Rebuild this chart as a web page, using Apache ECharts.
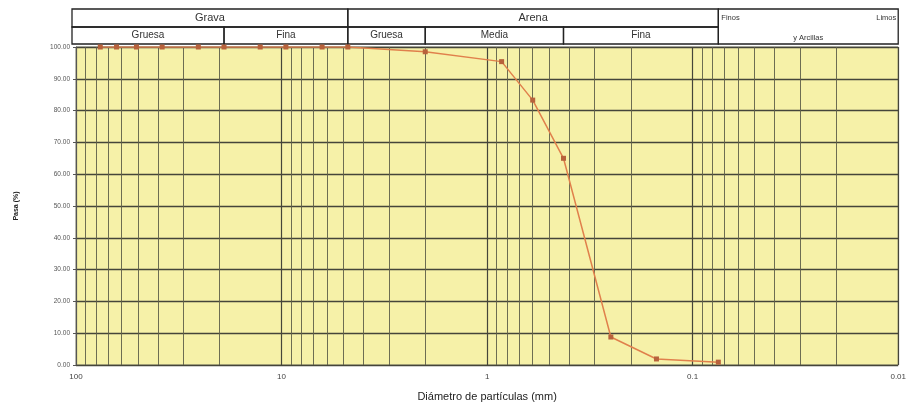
<!DOCTYPE html>
<html>
<head>
<meta charset="utf-8">
<script src="https://cdn.jsdelivr.net/npm/echarts@6/dist/echarts.min.js"></script>
<style>
  html, body { margin: 0; padding: 0; background: #fff; }
  #chart { width: 909px; height: 412px; }
</style>
</head>
<body>
<div id="chart"></div>
<script>
// tamices (mm) y porcentaje que pasa
var diametros = [76.2, 63.5, 50.8, 38.1, 25.4, 19.05, 12.7, 9.525, 6.35, 4.76, 2.0, 0.85, 0.6, 0.425, 0.25, 0.15, 0.075];
var pasa = [100, 100, 100, 100, 100, 100, 100, 100, 100, 100, 98.5, 95.4, 83.3, 65.0, 8.8, 1.9, 0.9];

// lineas menores de la malla logaritmica
var decadas = [0.01, 0.1, 1, 10];
var multiplos = [2, 3, 4, 5, 6, 7, 8, 9];

// encabezado de clasificacion
var fila1 = [
    { text: 'Grava', from: 100, to: 4.76 },
    { text: 'Arena', from: 4.76, to: 0.075 }
];
var fila2 = [
    { text: 'Gruesa', from: 100, to: 19.05 },
    { text: 'Fina', from: 19.05, to: 4.76 },
    { text: 'Gruesa', from: 4.76, to: 2.0 },
    { text: 'Media', from: 2.0, to: 0.425 },
    { text: 'Fina', from: 0.425, to: 0.075 }
];

var myChart = echarts.init(document.getElementById('chart'));

var puntos = [];
for (var i = 0; i < diametros.length; i++) {
    puntos.push([diametros[i], pasa[i]]);
}
var lineasMenores = [];
for (var d = 0; d < decadas.length; d++) {
    for (var m = 0; m < multiplos.length; m++) {
        lineasMenores.push({ xAxis: +(decadas[d] * multiplos[m]).toPrecision(3) });
    }
}

var option = {
    animation: false,
    grid: {
        left: 76, right: 8, top: 47, bottom: 47,
        show: true,
        backgroundColor: '#f6f1a8',
        borderColor: '#8a8a70',
        borderWidth: 1
    },
    xAxis: {
        type: 'log',
        logBase: 10,
        min: 0.01,
        max: 100,
        inverse: true,
        name: 'Diámetro de partículas (mm)',
        nameLocation: 'middle',
        nameGap: 26,
        nameTextStyle: { fontFamily: 'Liberation Sans', fontSize: 11, color: '#222' },
        axisLine: { show: false },
        axisTick: { show: false },
        axisLabel: {
            fontFamily: 'Liberation Sans', fontSize: 8, color: '#444', margin: 8,
            formatter: function (v) { return String(+v.toPrecision(3)); }
        },
        splitLine: { show: true, lineStyle: { color: '#45453a', width: 1.2 } }
    },
    yAxis: {
        type: 'value',
        min: 0,
        max: 100,
        interval: 10,
        name: 'Pasa (%)',
        nameLocation: 'middle',
        nameGap: 56,
        nameTextStyle: { fontFamily: 'Liberation Sans', fontSize: 7, fontWeight: 'bold', color: '#222' },
        axisLine: { show: true, lineStyle: { color: '#555', width: 1 } },
        axisTick: { show: true, length: 3, lineStyle: { color: '#555' } },
        axisLabel: {
            fontFamily: 'Liberation Sans', fontSize: 6.5, color: '#555', margin: 6,
            formatter: function (v) { return v.toFixed(2); }
        },
        splitLine: { show: true, lineStyle: { color: '#45453a', width: 1.3 } }
    },
    series: [
        {
            type: 'line',
            data: puntos,
            symbol: 'rect',
            symbolSize: 5,
            itemStyle: { color: '#b8623c' },
            lineStyle: { color: '#e0804c', width: 1.5 },
            z: 5,
            markLine: {
                silent: true,
                symbol: 'none',
                label: { show: false },
                lineStyle: { color: '#5e5e48', width: 0.9, type: 'solid' },
                data: lineasMenores,
                z: 1
            }
        }
    ]
};
myChart.setOption(option);

// encabezado dibujado con las posiciones del eje
function px(v) { return myChart.convertToPixel({ xAxisIndex: 0 }, v); }
var y0 = 9, y1 = 27, y2 = 44;
var izq = px(100) - 4, der = px(0.01);
var elementos = [];
var borde = { fill: 'none', stroke: '#222', lineWidth: 1.3 };
function celda(x1, x2, ya, yb, texto, size) {
    elementos.push({ type: 'rect', shape: { x: x1, y: ya, width: x2 - x1, height: yb - ya }, style: borde });
    if (texto) {
        elementos.push({
            type: 'text', x: (x1 + x2) / 2, y: (ya + yb) / 2,
            style: { text: texto, fontFamily: 'Liberation Sans', fontSize: size, fill: '#333', align: 'center', verticalAlign: 'middle' }
        });
    }
}
fila1.forEach(function (c) {
    celda(c.from === 100 ? izq : px(c.from), px(c.to), y0, y1, c.text, 11);
});
fila2.forEach(function (c) {
    celda(c.from === 100 ? izq : px(c.from), px(c.to), y1, y2, c.text, 10);
});
var xf = px(0.075);
celda(xf, der, y0, y2, null, 8);
elementos.push({ type: 'text', x: xf + 3, y: 18, style: { text: 'Finos', fontFamily: 'Liberation Sans', fontSize: 7.5, fill: '#333', align: 'left', verticalAlign: 'middle' } });
elementos.push({ type: 'text', x: der - 2, y: 18, style: { text: 'Limos', fontFamily: 'Liberation Sans', fontSize: 7.5, fill: '#333', align: 'right', verticalAlign: 'middle' } });
elementos.push({ type: 'text', x: (xf + der) / 2, y: 38, style: { text: 'y Arcillas', fontFamily: 'Liberation Sans', fontSize: 7.5, fill: '#333', align: 'center', verticalAlign: 'middle' } });
myChart.setOption({ graphic: elementos });

window.addEventListener('resize', function () {
    myChart.resize();
});
</script>
</body>
</html>
